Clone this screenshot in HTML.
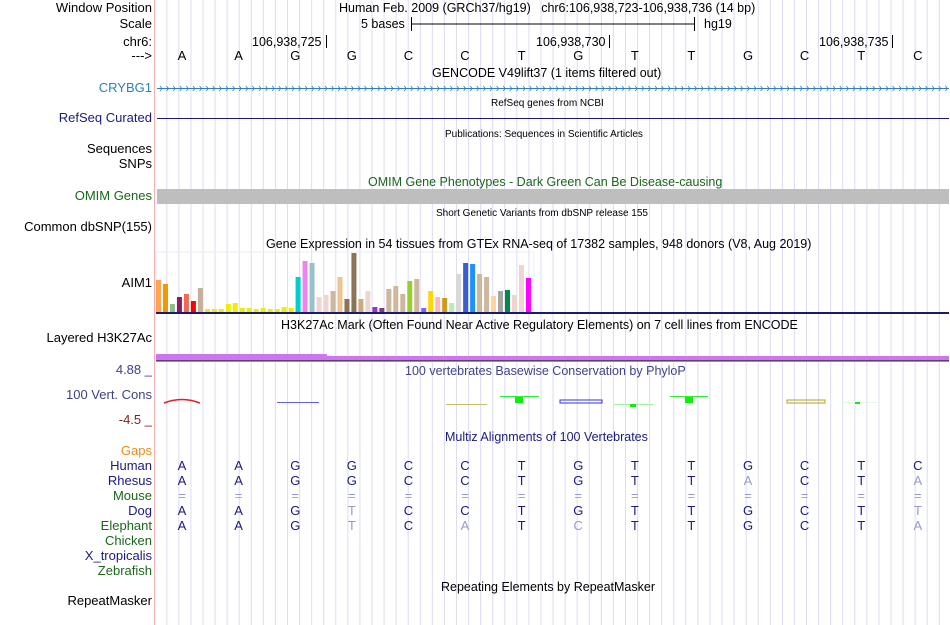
<!DOCTYPE html>
<html><head><meta charset="utf-8"><style>
body{margin:0;width:950px;height:625px;background:#fff;overflow:hidden;position:relative;font-family:"Liberation Sans",sans-serif;}
.t{position:absolute;white-space:nowrap;font-size:12.5px;line-height:14px;}
.l{right:798px;text-align:right;font-size:13px;}
.s{font-size:10px;}
svg{position:absolute;left:0;top:0;}
</style></head><body>
<svg id="g" width="950" height="625"></svg>
<div class="t l" style="top:1px">Window Position</div>
<div class="t l" style="top:17px">Scale</div>
<div class="t l" style="top:35px">chr6:</div>
<div class="t l" style="top:49px">---&gt;</div>
<div class="t l" style="top:81px;color:#2f7fbf">CRYBG1</div>
<div class="t l" style="top:111px;color:#1a1a80">RefSeq Curated</div>
<div class="t l" style="top:142px">Sequences</div>
<div class="t l" style="top:157px">SNPs</div>
<div class="t l" style="top:189px;color:#1a661a">OMIM Genes</div>
<div class="t l" style="top:220px">Common dbSNP(155)</div>
<div class="t l" style="top:276px">AIM1</div>
<div class="t l" style="top:331px">Layered H3K27Ac</div>
<div class="t l" style="top:363px;color:#40408c">4.88 _</div>
<div class="t l" style="top:388px;color:#40408c">100 Vert. Cons</div>
<div class="t l" style="top:413px;color:#8c1a1a">-4.5 _</div>
<div class="t l" style="top:444px;color:#f08c1a">Gaps</div>
<div class="t l" style="top:459px;color:#1a1a80">Human</div>
<div class="t l" style="top:474px;color:#1a1a80">Rhesus</div>
<div class="t l" style="top:489px;color:#1a661a">Mouse</div>
<div class="t l" style="top:504px;color:#1a1a80">Dog</div>
<div class="t l" style="top:519px;color:#1a661a">Elephant</div>
<div class="t l" style="top:534px;color:#1a661a">Chicken</div>
<div class="t l" style="top:549px;color:#1a1a80">X_tropicalis</div>
<div class="t l" style="top:564px;color:#1a661a">Zebrafish</div>
<div class="t l" style="top:594px">RepeatMasker</div>

<div class="t" style="top:1px;left:339px">Human Feb. 2009 (GRCh37/hg19) &nbsp; chr6:106,938,723-106,938,736 (14 bp)</div>
<div class="t" style="top:17px;left:361px">5 bases</div>
<div class="t" style="top:17px;left:704px">hg19</div>
<div class="t" style="top:35px;left:252px">106,938,725</div>
<div class="t" style="top:35px;left:536px">106,938,730</div>
<div class="t" style="top:35px;left:819px">106,938,735</div>
<div class="t" style="top:66px;left:432px">GENCODE V49lift37 (1 items filtered out)</div>
<div class="t s" style="top:97px;left:491px">RefSeq genes from NCBI</div>
<div class="t s" style="top:128px;left:445px">Publications: Sequences in Scientific Articles</div>
<div class="t" style="top:175px;left:368px;color:#1a661a">OMIM Gene Phenotypes - Dark Green Can Be Disease-causing</div>
<div class="t s" style="top:207px;left:436px">Short Genetic Variants from dbSNP release 155</div>
<div class="t" style="top:237px;left:266px">Gene Expression in 54 tissues from GTEx RNA-seq of 17382 samples, 948 donors (V8, Aug 2019)</div>
<div class="t" style="top:318px;left:281px">H3K27Ac Mark (Often Found Near Active Regulatory Elements) on 7 cell lines from ENCODE</div>
<div class="t" style="top:364px;left:405px;color:#40408c">100 vertebrates Basewise Conservation by PhyloP</div>
<div class="t" style="top:430px;left:445px;color:#1a1a80">Multiz Alignments of 100 Vertebrates</div>
<div class="t" style="top:580px;left:441px">Repeating Elements by RepeatMasker</div>
<div id="txt"></div>
<script>
const bases=["A","A","G","G","C","C","T","G","T","T","G","C","T","C"];
const rhesus=["A","A","G","G","C","C","T","G","T","T","a","C","T","a"];
const mouse=["=","=","=","=","=","=","=","=","=","=","=","=","=","="];
const dog=["A","A","G","t","C","C","T","G","T","T","G","C","T","t"];
const elephant=["A","A","G","t","C","a","T","c","T","T","G","C","T","a"];
const tissues=["Adipose-Sub","Adipose-Visc","Adrenal","Artery-Aorta","Artery-Coronary","Artery-Tibial","Bladder","Brain-Amygdala","Brain-ACC","Brain-Caudate","Brain-Cerebellar","Brain-Cerebellum","Brain-Cortex","Brain-FrontalCortex","Brain-Hippocampus","Brain-Hypothalamus","Brain-NAcc","Brain-Putamen","Brain-SpinalCord","Brain-SubstantiaNigra","Breast","Fibroblasts","Lymphocytes","Cervix-Ecto","Cervix-Endo","Colon-Sigmoid","Colon-Transverse","Esoph-GEJ","Esoph-Mucosa","Esoph-Muscularis","Fallopian","Heart-AA","Heart-LV","Kidney-Cortex","Kidney-Medulla","Liver","Lung","MinorSalivary","Muscle","Nerve-Tibial","Ovary","Pancreas","Pituitary","Prostate","Skin-NotSun","Skin-Sun","SmallIntestine","Spleen","Stomach","Testis","Thyroid","Uterus","Vagina","WholeBlood"];
const expr=[32,28,8,15,18,11,24,3,3,3,8,9,4,4,3,4,3,3,5,4,35,51,49,15,17,21,35,13,59,13,21,5,4,23,26,18,31,33,4,21,15,14,9,38,49,48,38,35,16,21,22,17,47,34];
const colors=["#FFA54F","#EE9A00","#8FBC8F","#8B1C62","#EE6A50","#FF0000","#C8AF96","#EEEE00","#EEEE00","#EEEE00","#EEEE00","#EEEE00","#EEEE00","#EEEE00","#EEEE00","#EEEE00","#EEEE00","#EEEE00","#EEEE00","#EEEE00","#00CDCD","#EE82EE","#9AC0CD","#EED5D2","#EED5D2","#CDB79E","#EEC591","#8B7355","#8B7355","#CDAA7D","#EED5D2","#9A32CD","#7A378B","#CDB79E","#CDB79E","#CDB79E","#9ACD32","#CDB79E","#7A67EE","#FFD700","#FFB6C1","#CD9B1D","#B4EEB4","#D9D9D9","#3A5FCD","#1E90FF","#CDB79E","#CDB79E","#FFD39B","#A6A6A6","#008B45","#EED5D2","#EED5D2","#FF00FF"];

const NS="http://www.w3.org/2000/svg";
const g=document.getElementById('g');
function el(tag,attrs){const e=document.createElementNS(NS,tag);for(const k in attrs)e.setAttribute(k,attrs[k]);g.appendChild(e);return e;}
for(let x=166.8;x<950;x+=12.07){const ln=el('line',{x1:x,y1:0,x2:x,y2:625,stroke:'#dcdcf4','stroke-width':1});

}
const sep=el('line',{x1:154.5,y1:0,x2:154.5,y2:625,stroke:'#f4b0b0','stroke-width':1});


el('line',{x1:411,y1:24,x2:694,y2:24,stroke:'#000'});
el('line',{x1:411.5,y1:17,x2:411.5,y2:31,stroke:'#000'});
el('line',{x1:694.5,y1:17,x2:694.5,y2:31,stroke:'#000'});
[326,609,892].forEach(x=>el('line',{x1:x+.5,y1:35,x2:x+.5,y2:48,stroke:'#000'}));
el('line',{x1:157,y1:88.5,x2:949,y2:88.5,stroke:'#2f7fbf'});
for(let x=160;x<949;x+=6.6){el('polyline',{points:`${x},86 ${x+2},88.5 ${x},91`,fill:'none',stroke:'#2f7fbf','stroke-width':0.8});}
el('line',{x1:157,y1:118.5,x2:949,y2:118.5,stroke:'#1a1a80'});
const om=el('rect',{x:157,y:189,width:792,height:15,fill:'#bebebe'});


const bx0=156,bstep=6.98,bw=5,baseY=312;
function xs(i){return bx0+i*bstep;}
function ys(v){return baseY-v;}
el('rect',{x:156,y:252,width:378,height:60,fill:'none',stroke:'#eeeeee'});
expr.forEach((v,i)=>{const r=el('rect',{x:xs(i),y:ys(v),width:bw,height:baseY-ys(v),fill:colors[i]});

});
el('rect',{x:156,y:312,width:793,height:2,fill:'#1a1a70'});
el('rect',{x:156,y:354,width:171,height:6,fill:'#cc77ee'});
el('rect',{x:327,y:356,width:622,height:4,fill:'#cc77ee'});
el('rect',{x:156,y:360,width:793,height:1,fill:'#604070'});
el('rect',{x:156,y:361,width:793,height:1,fill:'#e07080'});
el('path',{d:'M164,403 Q182,396 200,403',fill:'none',stroke:'#e02020','stroke-width':1.5});
el('line',{x1:277,y1:402.5,x2:319,y2:402.5,stroke:'#6060ee'});
el('line',{x1:446,y1:404.5,x2:487,y2:404.5,stroke:'#c8c060'});
el('line',{x1:500,y1:396.5,x2:539,y2:396.5,stroke:'#30ee30'});el('rect',{x:515,y:397,width:8,height:6,fill:'#10ee10'});
el('rect',{x:560,y:400,width:42,height:3,fill:'none',stroke:'#3030e0'});
el('line',{x1:614,y1:404.5,x2:653,y2:404.5,stroke:'#a0f0a0'});el('rect',{x:630,y:404,width:6,height:3,fill:'#10ee10'});
el('line',{x1:670,y1:396.5,x2:708,y2:396.5,stroke:'#30ee30'});el('rect',{x:685,y:397,width:8,height:6,fill:'#10ee10'});
el('rect',{x:787,y:400,width:38,height:3,fill:'none',stroke:'#b0a020'});
el('line',{x1:842,y1:402.5,x2:880,y2:402.5,stroke:'#e0fae0'});el('rect',{x:855,y:402,width:5,height:2,fill:'#10ee10'});
const txt=document.getElementById('txt');
function bx(i){return 182+i*56.6;}
function row(arr,y,name,dark){arr.forEach((b,i)=>{const d=document.createElement('div');d.className='t';
const low=(b!==b.toUpperCase())||b==='=';
d.textContent=b.toUpperCase();d.style.left=(bx(i)-5)+'px';d.style.top=y+'px';d.style.width='10px';d.style.textAlign='center';d.style.fontSize='13px';
d.style.color=dark?dark:(low?'#9a9ac8':'#1a1a80');


txt.appendChild(d);});}
row(bases,49,'ref','#000');
row(bases,459,'human',null);
row(rhesus,474,'rhesus',null);
row(mouse,489,'mouse',null);
row(dog,504,'dog',null);
row(elephant,519,'elephant',null);
</script>
</body></html>
